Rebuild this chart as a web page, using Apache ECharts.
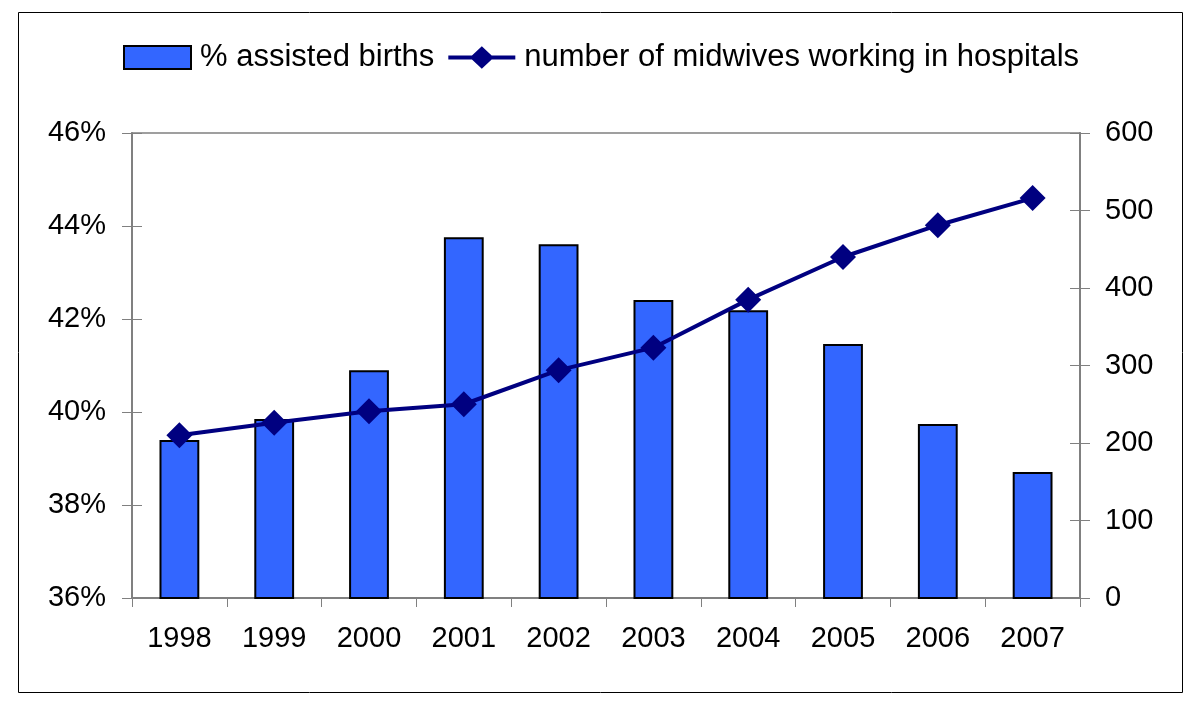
<!DOCTYPE html>
<html><head><meta charset="utf-8">
<script src="https://cdn.jsdelivr.net/npm/echarts@6/dist/echarts.min.js"></script>
<style>html,body{margin:0;padding:0;background:#fff}#c{width:1200px;height:712px}</style>
</head><body><div id="c"></div>
<script>
const years = ['1998','1999','2000','2001','2002','2003','2004','2005','2006','2007'];
const assistedBirthsPct = [39.40, 39.85, 40.90, 43.76, 43.61, 42.41, 42.19, 41.46, 39.74, 38.71];
const midwives = [210, 226, 241, 250, 294, 323, 385, 440, 481, 516];
const leftTicks = {min: 36, max: 46, interval: 2};
const rightTicks = {min: 0, max: 600, interval: 100};

const chart = echarts.init(document.getElementById('c'));
const font = 'Liberation Sans, Arial, sans-serif';
const axisGrey = '#808080';
chart.setOption({
  animation: false,
  graphic: [{type:'rect', shape:{x:18.5,y:12.5,width:1164,height:680}, style:{fill:'none', stroke:'#000', lineWidth:1}, z:-1}],
  legend: {
    top: 37, left: 118, itemGap: 14, itemWidth: 67, itemHeight: 23,
    textStyle: {fontFamily: font, fontSize: 31, color: '#000', padding: [0, 0, 0, 4]},
    data: [
      {name:'% assisted births', icon: 'rect'},
      {name:'number of midwives working in hospitals',
       icon: 'path://M0,9.5 L24,9.5 L34,0 L44,9.5 L68,9.5 L68,13.5 L44,13.5 L34,23 L24,13.5 L0,13.5 Z',
       itemStyle: {color: '#000080', borderWidth: 0}}
    ]
  },
  grid: {left: 132, right: 120, top: 133, bottom: 114, show: true, borderColor: axisGrey, borderWidth: 1.5, backgroundColor: 'transparent'},
  xAxis: {
    type: 'category', data: years, boundaryGap: true,
    axisLine: {lineStyle: {color: axisGrey, width: 2}},
    axisTick: {show: true, length: 9, lineStyle: {color: axisGrey, width: 1}},
    axisLabel: {fontFamily: font, fontSize: 29, color: '#000', margin: 26}
  },
  yAxis: [
    {type: 'value', position: 'left', min: leftTicks.min, max: leftTicks.max, interval: leftTicks.interval,
     axisLine: {show: true, lineStyle: {color: axisGrey, width: 2}},
     axisTick: {show: true, length: 10, lineStyle: {color: axisGrey, width: 1}},
     splitLine: {show: false},
     axisLabel: {fontFamily: font, fontSize: 29, color: '#000', margin: 26, formatter: '{value}%'}},
    {type: 'value', position: 'right', min: rightTicks.min, max: rightTicks.max, interval: rightTicks.interval,
     axisLine: {show: true, lineStyle: {color: axisGrey, width: 2}},
     axisTick: {show: true, length: 10, lineStyle: {color: axisGrey, width: 1}},
     splitLine: {show: false},
     axisLabel: {fontFamily: font, fontSize: 29, color: '#000', margin: 25}},
    {type: 'value', position: 'left', min: leftTicks.min, max: leftTicks.max, interval: leftTicks.interval,
     axisLine: {show: false}, axisLabel: {show: false}, splitLine: {show: false},
     axisTick: {show: true, inside: true, length: 10, lineStyle: {color: axisGrey, width: 1}}},
    {type: 'value', position: 'right', min: rightTicks.min, max: rightTicks.max, interval: rightTicks.interval,
     axisLine: {show: false}, axisLabel: {show: false}, splitLine: {show: false},
     axisTick: {show: true, inside: true, length: 10, lineStyle: {color: axisGrey, width: 1}}}
  ],
  series: [
    {name: '% assisted births', type: 'bar', yAxisIndex: 0, data: assistedBirthsPct, barWidth: '42%',
     itemStyle: {color: '#3366FF', borderColor: '#000', borderWidth: 2}},
    {name: 'number of midwives working in hospitals', type: 'line', yAxisIndex: 1, data: midwives,
     symbol: 'diamond', symbolSize: 26, lineStyle: {color: '#000080', width: 4},
     itemStyle: {color: '#000080'}}
  ]
});
</script></body></html>
